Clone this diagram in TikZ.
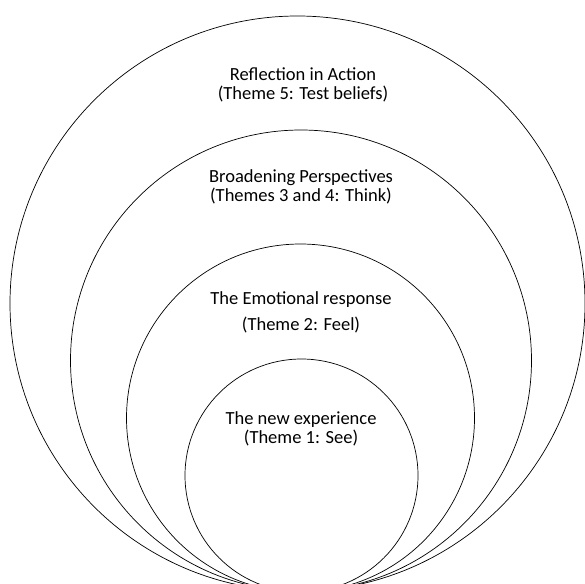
\documentclass[tikz,border=0pt]{standalone}
\usepackage{fontspec}
\setmainfont{Carlito}

\begin{document}
\begin{tikzpicture}[x=0.03cm,y=-0.03cm]
  \def\f{0.03}

\tikzstyle{ring}=[circle,draw,line width=0.6pt,inner sep=0pt]
\tikzstyle{stage}=[align=center,font=\fontsize{15.8}{16.2}\selectfont]
\clip (0,0) rectangle (585,583);
\node[ring,minimum size=575*\f cm] (R5) at (297.5,303.5) {};
\node[ring,minimum size=461*\f cm] (R4) at (301,360.5) {};
\node[ring,minimum size=348*\f cm] (R3) at (300.5,418) {};
\node[ring,minimum size=233*\f cm] (R2) at (301.5,475.5) {};
\node[stage] (T5) at (303,84.5) {Reflection in Action\\(Theme 5: Test beliefs)};
\node[stage] (T4) at (301,186.5) {Broadening Perspectives\\(Themes 3 and 4: Think)};
\node[stage] (T3) at (301,312) {The Emotional response\\[6pt](Theme 2: Feel)};
\node[stage] (T2) at (301,428.5) {The new experience\\(Theme 1: See)};
\end{tikzpicture}
\end{document}
